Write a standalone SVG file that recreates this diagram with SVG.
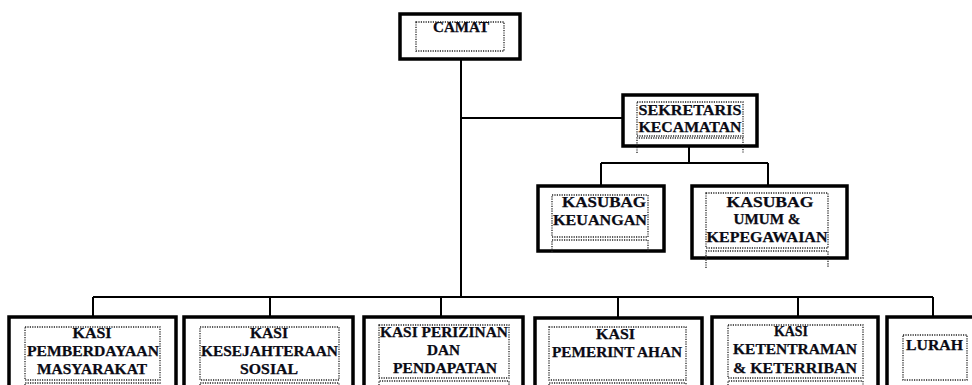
<svg xmlns="http://www.w3.org/2000/svg" width="972" height="385" viewBox="0 0 972 385">
<style>
.box{fill:#fff;stroke:#000;stroke-width:3.5}
.dot{fill:none;stroke:#222;stroke-width:1.3;stroke-dasharray:1.2 1.2}
.ln{fill:none;stroke:#000;stroke-width:2}
text{font-family:"Liberation Serif","Times New Roman",serif;font-weight:bold;font-size:15px;fill:#0a0a14;text-anchor:middle;stroke:#0a0a14;stroke-width:0.25}
</style>
<rect width="972" height="385" fill="#fff"/>
<g id="connectors">
<path class="ln" d="M461 59V297M461 118H623M689 146V163M601 163H768M601 163V185M768 163V185"/>
<path class="ln" d="M93 297H933M93 297V317M270 297V317M441 297V317M618 297V317M798 297V317M933 297V317"/>
</g>
<g id="camat">
<rect class="box" x="400" y="14" width="120" height="45"/>
<rect class="dot" x="416" y="22" width="88" height="29"/>
<text x="461" y="32" textLength="56" lengthAdjust="spacingAndGlyphs">CAMAT</text>
</g>
<g id="sekretaris">
<rect class="box" x="623" y="95" width="134" height="51"/>
<rect class="dot" x="637" y="102" width="106" height="34"/>
<path class="dot" d="M637 153V138H743V153"/>
<text x="690" y="115" textLength="103" lengthAdjust="spacingAndGlyphs">SEKRETARIS</text>
<text x="690" y="132" textLength="103" lengthAdjust="spacingAndGlyphs">KECAMATAN</text>
</g>
<g id="kasubag-keuangan">
<rect class="box" x="538" y="186" width="126" height="65"/>
<rect class="dot" x="552" y="195" width="96" height="42"/>
<path class="dot" d="M552 252V240H648V252"/>
<text x="604" y="207" textLength="84" lengthAdjust="spacingAndGlyphs">KASUBAG</text>
<text x="600" y="225" textLength="94" lengthAdjust="spacingAndGlyphs">KEUANGAN</text>
</g>
<g id="kasubag-umum">
<rect class="box" x="692" y="186" width="155" height="72"/>
<rect class="dot" x="706" y="193" width="122" height="55"/>
<path class="dot" d="M706 268V251H828V268"/>
<text x="770" y="207" textLength="87" lengthAdjust="spacingAndGlyphs">KASUBAG</text>
<text x="767" y="224" textLength="67" lengthAdjust="spacingAndGlyphs">UMUM &amp;</text>
<text x="767" y="242" textLength="121" lengthAdjust="spacingAndGlyphs">KEPEGAWAIAN</text>
</g>
<g id="kasi-pemberdayaan">
<rect class="box" x="9" y="317" width="167" height="80"/>
<rect class="dot" x="25" y="327" width="135" height="53"/>
<path class="dot" d="M25 390V383H160V390"/>
<text x="92" y="338" textLength="39" lengthAdjust="spacingAndGlyphs">KASI</text>
<text x="93" y="356" textLength="132" lengthAdjust="spacingAndGlyphs">PEMBERDAYAAN</text>
<text x="92" y="374" textLength="110" lengthAdjust="spacingAndGlyphs">MASYARAKAT</text>
</g>
<g id="kasi-kesejahteraan">
<rect class="box" x="184" y="317" width="169" height="80"/>
<rect class="dot" x="200" y="327" width="139" height="53"/>
<path class="dot" d="M200 390V383H339V390"/>
<text x="269" y="338" textLength="38" lengthAdjust="spacingAndGlyphs">KASI</text>
<text x="269.5" y="356" textLength="137" lengthAdjust="spacingAndGlyphs">KESEJAHTERAAN</text>
<text x="269" y="374" textLength="58" lengthAdjust="spacingAndGlyphs">SOSIAL</text>
</g>
<g id="kasi-perizinan">
<rect class="box" x="364" y="317" width="159" height="80"/>
<rect class="dot" x="379" y="325" width="130" height="53"/>
<path class="dot" d="M379 390V381H509V390"/>
<text x="444" y="337" textLength="128" lengthAdjust="spacingAndGlyphs">KASI PERIZINAN</text>
<text x="443.5" y="355" textLength="33" lengthAdjust="spacingAndGlyphs">DAN</text>
<text x="445" y="373" textLength="104" lengthAdjust="spacingAndGlyphs">PENDAPATAN</text>
</g>
<g id="kasi-pemerintahan">
<rect class="box" x="535" y="318" width="167" height="80"/>
<rect class="dot" x="549" y="327" width="137" height="53"/>
<path class="dot" d="M549 390V383H686V390"/>
<text x="615.5" y="339" textLength="39" lengthAdjust="spacingAndGlyphs">KASI</text>
<text x="617" y="357" textLength="130" lengthAdjust="spacingAndGlyphs">PEMERINT AHAN</text>
</g>
<g id="kasi-ketentraman">
<rect class="box" x="712" y="317" width="166" height="80"/>
<rect class="dot" x="728" y="325" width="135" height="53"/>
<path class="dot" d="M728 390V381H863V390"/>
<text x="791" y="336" textLength="34" lengthAdjust="spacingAndGlyphs">KASI</text>
<text x="795" y="354" textLength="124" lengthAdjust="spacingAndGlyphs">KETENTRAMAN</text>
<text x="795" y="373" textLength="124" lengthAdjust="spacingAndGlyphs">&amp; KETERRIBAN</text>
</g>
<g id="lurah">
<rect class="box" x="887" y="317" width="100" height="80"/>
<rect class="dot" x="903" y="335" width="64" height="45"/>
<text x="934.5" y="350" textLength="57" lengthAdjust="spacingAndGlyphs">LURAH</text>
</g>
</svg>
